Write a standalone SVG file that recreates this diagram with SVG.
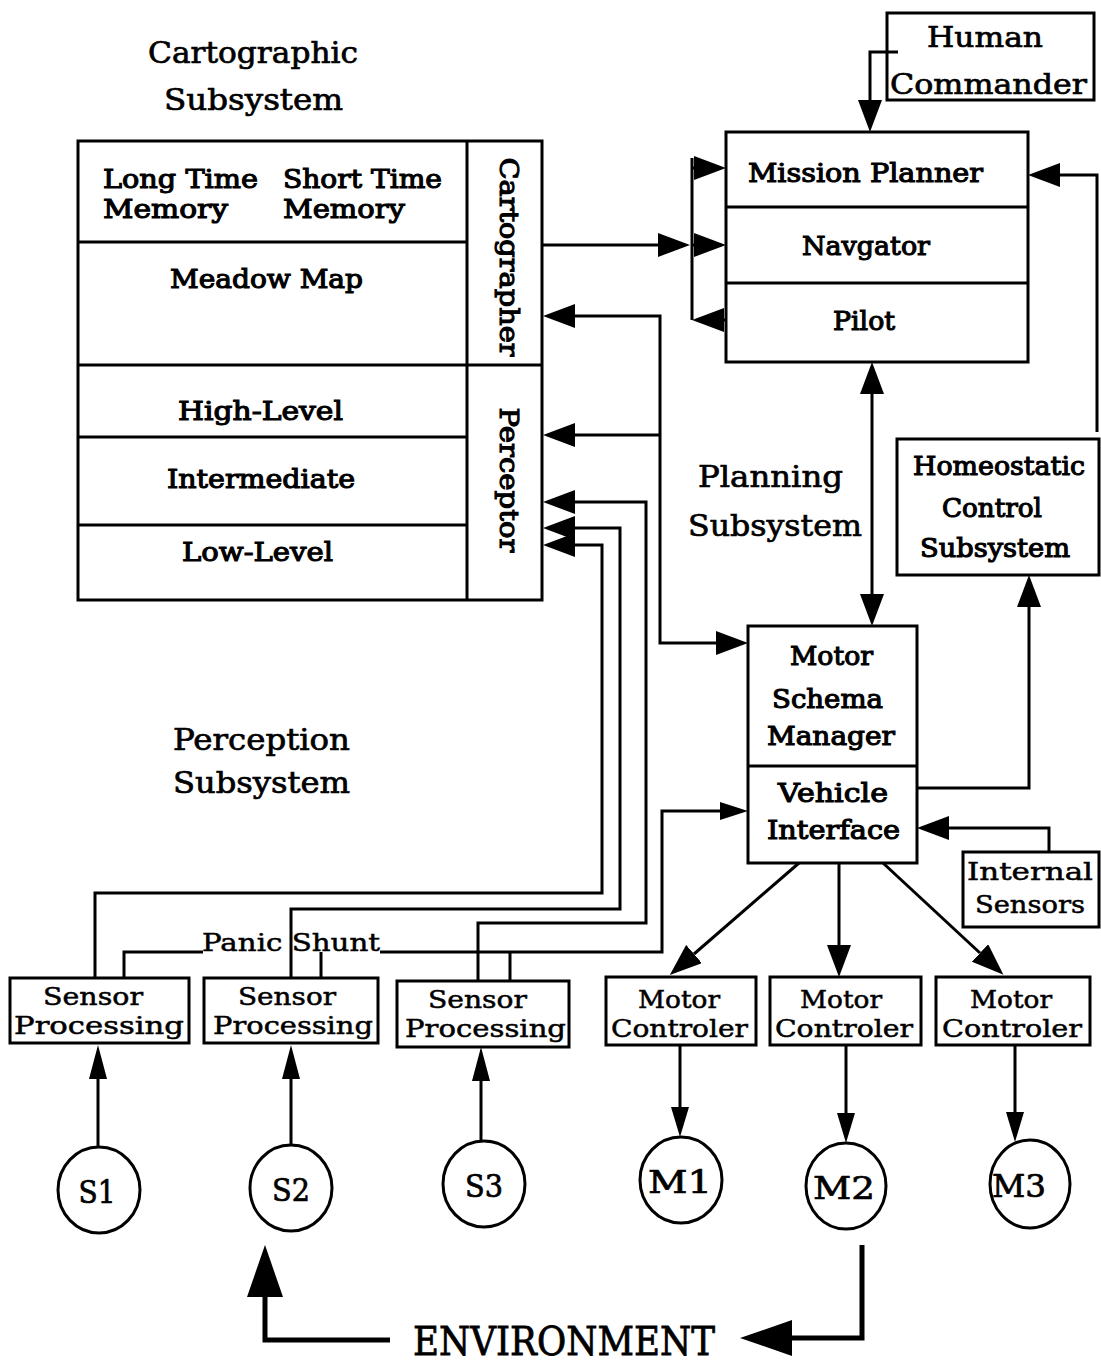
<svg xmlns="http://www.w3.org/2000/svg" width="1101" height="1362" viewBox="0 0 1101 1362">
<style>
.bx{fill:none;stroke:#000;stroke-width:3}
.ln{fill:none;stroke:#000;stroke-width:3}
.cn{fill:none;stroke:#000;stroke-width:3;stroke-linejoin:miter}
.env{fill:none;stroke:#000;stroke-width:5}
text{font-family:"DejaVu Serif","Liberation Serif",serif;fill:#000;stroke:#000;stroke-width:0.5}
.b{font-size:26px;stroke-width:1.1}
.n{font-size:25px}
.t{font-size:30px;stroke-width:0.7}
.c{font-size:32px;stroke-width:0.7}
.e{font-size:40px;stroke-width:0.8}
</style>
<defs>
<marker id="a" markerUnits="userSpaceOnUse" viewBox="0 0 32 24" markerWidth="32" markerHeight="24" refX="0" refY="12" orient="auto"><path d="M0,0 L32,12 L0,24 z" fill="#000"/></marker>
<marker id="a2" markerUnits="userSpaceOnUse" viewBox="0 0 32 24" markerWidth="32" markerHeight="24" refX="0" refY="12" orient="auto-start-reverse"><path d="M0,0 L32,12 L0,24 z" fill="#000"/></marker>
<marker id="v" markerUnits="userSpaceOnUse" viewBox="0 0 28 18" markerWidth="28" markerHeight="18" refX="0" refY="9" orient="auto"><path d="M0,0 L28,9 L0,18 z" fill="#000"/></marker>
<marker id="s" markerUnits="userSpaceOnUse" viewBox="0 0 34 18" markerWidth="34" markerHeight="18" refX="0" refY="9" orient="auto"><path d="M0,0 L34,9 L0,18 z" fill="#000"/></marker>
<marker id="m" markerUnits="userSpaceOnUse" viewBox="0 0 30 18" markerWidth="30" markerHeight="18" refX="0" refY="9" orient="auto"><path d="M0,0 L30,9 L0,18 z" fill="#000"/></marker>
<marker id="e" markerUnits="userSpaceOnUse" viewBox="0 0 52 36" markerWidth="52" markerHeight="36" refX="0" refY="18" orient="auto"><path d="M0,0 L52,18 L0,36 z" fill="#000"/></marker>
</defs>
<rect width="1101" height="1362" fill="#fff"/>

<g id="title-cartographic">
<text class="t" x="148" y="63" textLength="210" lengthAdjust="spacingAndGlyphs">Cartographic</text>
<text class="t" x="164" y="110" textLength="179" lengthAdjust="spacingAndGlyphs">Subsystem</text>
</g>

<g id="cartographic-subsystem">
<rect class="bx" x="78" y="141" width="464" height="459"/>
<line class="ln" x1="467" y1="141" x2="467" y2="600"/>
<line class="ln" x1="78" y1="242" x2="467" y2="242"/>
<line class="ln" x1="78" y1="365" x2="542" y2="365"/>
<line class="ln" x1="78" y1="437" x2="467" y2="437"/>
<line class="ln" x1="78" y1="525" x2="467" y2="525"/>
<text class="b" x="103" y="188" textLength="155" lengthAdjust="spacingAndGlyphs">Long Time</text>
<text class="b" x="103" y="218" textLength="125" lengthAdjust="spacingAndGlyphs">Memory</text>
<text class="b" x="283" y="188" textLength="159" lengthAdjust="spacingAndGlyphs">Short Time</text>
<text class="b" x="283" y="218" textLength="122" lengthAdjust="spacingAndGlyphs">Memory</text>
<text class="b" x="170" y="288" textLength="193" lengthAdjust="spacingAndGlyphs">Meadow  Map</text>
<text class="b" x="178" y="420" textLength="165" lengthAdjust="spacingAndGlyphs">High-Level</text>
<text class="b" x="167" y="488" textLength="188" lengthAdjust="spacingAndGlyphs">Intermediate</text>
<text class="b" x="182" y="561" textLength="151" lengthAdjust="spacingAndGlyphs">Low-Level</text>
<text class="b" transform="translate(500,257) rotate(90)" text-anchor="middle" textLength="199" lengthAdjust="spacingAndGlyphs">Cartographer</text>
<text class="b" transform="translate(500,480) rotate(90)" text-anchor="middle" textLength="145" lengthAdjust="spacingAndGlyphs">Perceptor</text>
</g>

<g id="human-commander">
<rect class="bx" x="887" y="13" width="207" height="87"/>
<text class="t" x="927" y="47" textLength="116" lengthAdjust="spacingAndGlyphs" style="font-size:28px">Human</text>
<text class="t" x="890" y="94" textLength="197" lengthAdjust="spacingAndGlyphs" style="font-size:28px">Commander</text>
</g>

<g id="planner">
<rect class="bx" x="726" y="132" width="302" height="230"/>
<line class="ln" x1="726" y1="207" x2="1028" y2="207"/>
<line class="ln" x1="726" y1="283" x2="1028" y2="283"/>
<text class="b" x="748" y="182" textLength="235" lengthAdjust="spacingAndGlyphs">Mission Planner</text>
<text class="b" x="802" y="255" textLength="128" lengthAdjust="spacingAndGlyphs">Navgator</text>
<text class="b" x="833" y="330" textLength="62" lengthAdjust="spacingAndGlyphs">Pilot</text>
</g>

<g id="title-planning">
<text class="t" x="698" y="487" textLength="145" lengthAdjust="spacingAndGlyphs">Planning</text>
<text class="t" x="688" y="536" textLength="174" lengthAdjust="spacingAndGlyphs">Subsystem</text>
</g>

<g id="homeostatic">
<rect class="bx" x="897" y="439" width="202" height="136"/>
<text class="b" x="913" y="475" textLength="172" lengthAdjust="spacingAndGlyphs">Homeostatic</text>
<text class="b" x="942" y="517" textLength="100" lengthAdjust="spacingAndGlyphs">Control</text>
<text class="b" x="920" y="557" textLength="150" lengthAdjust="spacingAndGlyphs">Subsystem</text>
</g>

<g id="motor-schema-manager">
<rect class="bx" x="748" y="626" width="169" height="237"/>
<line class="ln" x1="748" y1="766" x2="917" y2="766"/>
<text class="b" x="790" y="665" textLength="83" lengthAdjust="spacingAndGlyphs">Motor</text>
<text class="b" x="772" y="708" textLength="111" lengthAdjust="spacingAndGlyphs">Schema</text>
<text class="b" x="767" y="745" textLength="128" lengthAdjust="spacingAndGlyphs">Manager</text>
<text class="b" x="778" y="802" textLength="110" lengthAdjust="spacingAndGlyphs">Vehicle</text>
<text class="b" x="767" y="839" textLength="133" lengthAdjust="spacingAndGlyphs">Interface</text>
</g>

<g id="title-perception">
<text class="t" x="173" y="750" textLength="177" lengthAdjust="spacingAndGlyphs">Perception</text>
<text class="t" x="173" y="793" textLength="177" lengthAdjust="spacingAndGlyphs">Subsystem</text>
</g>

<g id="internal-sensors">
<rect class="bx" x="963" y="852" width="136" height="75"/>
<text class="n" x="967" y="880" textLength="126" lengthAdjust="spacingAndGlyphs">Internal</text>
<text class="n" x="975" y="913" textLength="110" lengthAdjust="spacingAndGlyphs">Sensors</text>
</g>

<g id="sensor-processing-1">
<rect class="bx" x="10" y="978" width="179" height="65"/>
<text class="n" x="43" y="1005" textLength="100" lengthAdjust="spacingAndGlyphs">Sensor</text>
<text class="n" x="14" y="1034" textLength="170" lengthAdjust="spacingAndGlyphs">Processing</text>
</g>
<g id="sensor-processing-2">
<rect class="bx" x="204" y="978" width="174" height="65"/>
<text class="n" x="238" y="1005" textLength="98" lengthAdjust="spacingAndGlyphs">Sensor</text>
<text class="n" x="213" y="1034" textLength="160" lengthAdjust="spacingAndGlyphs">Processing</text>
</g>
<g id="sensor-processing-3">
<rect class="bx" x="397" y="981" width="172" height="66"/>
<text class="n" x="428" y="1008" textLength="99" lengthAdjust="spacingAndGlyphs">Sensor</text>
<text class="n" x="405" y="1037" textLength="161" lengthAdjust="spacingAndGlyphs">Processing</text>
</g>

<g id="motor-controller-1">
<rect class="bx" x="606" y="977" width="150" height="68"/>
<text class="n" x="638" y="1008" textLength="82" lengthAdjust="spacingAndGlyphs">Motor</text>
<text class="n" x="611" y="1037" textLength="137" lengthAdjust="spacingAndGlyphs">Controler</text>
</g>
<g id="motor-controller-2">
<rect class="bx" x="770" y="977" width="151" height="68"/>
<text class="n" x="800" y="1008" textLength="82" lengthAdjust="spacingAndGlyphs">Motor</text>
<text class="n" x="775" y="1037" textLength="138" lengthAdjust="spacingAndGlyphs">Controler</text>
</g>
<g id="motor-controller-3">
<rect class="bx" x="936" y="977" width="154" height="68"/>
<text class="n" x="970" y="1008" textLength="82" lengthAdjust="spacingAndGlyphs">Motor</text>
<text class="n" x="942" y="1037" textLength="140" lengthAdjust="spacingAndGlyphs">Controler</text>
</g>

<g id="s1"><ellipse class="bx" cx="99" cy="1190" rx="41" ry="43"/><text class="c" x="97" y="1203" text-anchor="middle" textLength="37" lengthAdjust="spacingAndGlyphs">S1</text></g>
<g id="s2"><ellipse class="bx" cx="291" cy="1188" rx="41" ry="43"/><text class="c" x="291" y="1201" text-anchor="middle" textLength="38" lengthAdjust="spacingAndGlyphs">S2</text></g>
<g id="s3"><ellipse class="bx" cx="484" cy="1184" rx="41" ry="43"/><text class="c" x="484" y="1197" text-anchor="middle" textLength="38" lengthAdjust="spacingAndGlyphs">S3</text></g>
<g id="m1"><ellipse class="bx" cx="681" cy="1180" rx="41" ry="43"/><text class="c" x="680" y="1193" text-anchor="middle" textLength="64" lengthAdjust="spacingAndGlyphs">M1</text></g>
<g id="m2"><ellipse class="bx" cx="846" cy="1186" rx="40" ry="43"/><text class="c" x="844" y="1199" text-anchor="middle" textLength="62" lengthAdjust="spacingAndGlyphs">M2</text></g>
<g id="m3"><ellipse class="bx" cx="1030" cy="1184" rx="40" ry="44"/><text class="c" x="1019" y="1197" text-anchor="middle" textLength="54" lengthAdjust="spacingAndGlyphs">M3</text></g>

<g id="environment">
<text class="e" x="413" y="1355" textLength="302" lengthAdjust="spacingAndGlyphs">ENVIRONMENT</text>
</g>

<g id="panic-shunt-label">
<text class="n" x="202" y="951" textLength="178" lengthAdjust="spacingAndGlyphs">Panic Shunt</text>
</g>

<g id="connectors">
<path class="cn" d="M898,52 H870 V100" marker-end="url(#a)"/>
<path class="cn" d="M692,158 V320"/>
<path class="cn" d="M692,168 H694" marker-end="url(#a)"/>
<path class="cn" d="M542,245 H658" marker-end="url(#a)"/>
<path class="cn" d="M692,245 H694" marker-end="url(#a)"/>
<path class="cn" d="M726,320 H724" marker-end="url(#a)"/>
<path class="cn" d="M1097,432 V175 H1060" marker-end="url(#a)"/>
<path class="cn" d="M872,394 V594" marker-start="url(#a2)" marker-end="url(#a2)"/>
<path class="cn" d="M575,316 H660 V643 H716" marker-start="url(#a2)" marker-end="url(#a2)"/>
<path class="cn" d="M660,435 H575" marker-end="url(#a)"/>
<path class="cn" d="M95,978 V893 H602 V545 H575" marker-end="url(#a)"/>
<path class="cn" d="M291,978 V909 H620 V528 H575" marker-end="url(#a)"/>
<path class="cn" d="M478,981 V923 H646 V502 H575" marker-end="url(#a)"/>
<path class="cn" d="M124,978 V952 H203"/>
<path class="cn" d="M380,952 H662 V811 H720" marker-end="url(#v)"/>
<path class="cn" d="M321,978 V952"/>
<path class="cn" d="M510,981 V952"/>
<path class="cn" d="M917,788 H1029 V607" marker-end="url(#a)"/>
<path class="cn" d="M1049,852 V828 H949" marker-end="url(#a)"/>
<path class="cn" d="M799,863 L694,954" marker-end="url(#a)"/>
<path class="cn" d="M839,863 V945" marker-end="url(#a)"/>
<path class="cn" d="M883,863 L980,953" marker-end="url(#a)"/>
<path class="cn" d="M98,1147 V1079" marker-end="url(#s)"/>
<path class="cn" d="M291,1145 V1079" marker-end="url(#s)"/>
<path class="cn" d="M481,1141 V1081" marker-end="url(#s)"/>
<path class="cn" d="M680,1045 V1107" marker-end="url(#m)"/>
<path class="cn" d="M846,1045 V1113" marker-end="url(#m)"/>
<path class="cn" d="M1015,1045 V1112" marker-end="url(#m)"/>
<path class="env" d="M390,1340 H265 V1297" marker-end="url(#e)"/>
<path class="env" d="M862,1245 V1338 H792" marker-end="url(#e)"/>
</g>
</svg>
